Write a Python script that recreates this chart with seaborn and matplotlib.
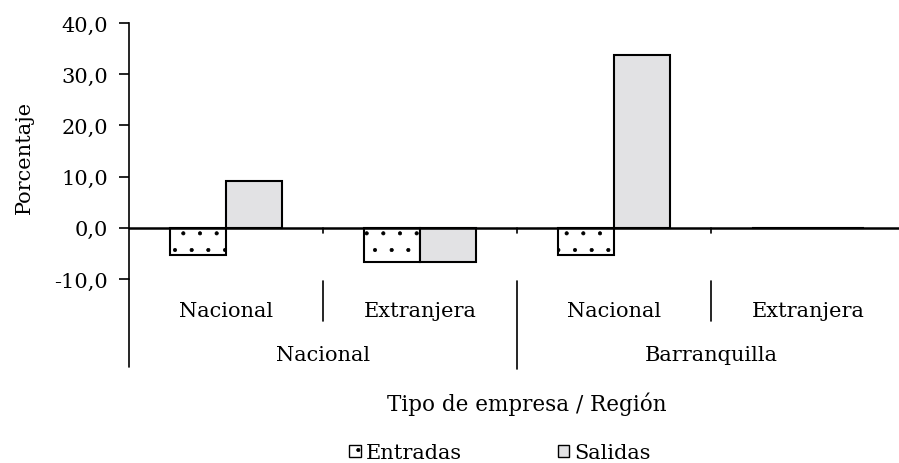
import pandas as pd
import numpy as np
import seaborn as sns
import matplotlib.pyplot as plt
from matplotlib.patches import Patch
from matplotlib.transforms import blended_transform_factory

# data
grupos = ['Nacional', 'Extranjera', 'Nacional ', 'Extranjera ']
tipo_labels = ['Nacional', 'Extranjera', 'Nacional', 'Extranjera']
region_labels = ['Nacional', 'Barranquilla']
entradas = [-5.3, -6.6, -5.3, 0.0]
salidas = [9.2, -6.7, 33.8, 0.0]

df = pd.DataFrame({
    'grupo': grupos * 2,
    'serie': ['Entradas'] * 4 + ['Salidas'] * 4,
    'valor': entradas + salidas,
})

sns.set_style('white')
plt.rcParams['font.family'] = ['DejaVu Serif']
plt.rcParams['text.color'] = 'black'
plt.rcParams['axes.labelcolor'] = 'black'
plt.rcParams['ytick.color'] = 'black'
plt.rcParams['hatch.linewidth'] = 0.5

FS = 15
W, H = 899, 464
fig = plt.figure(figsize=(W / 100, H / 100), dpi=100)
# axes in pixels: left 129, right 905, top 24 (40), bottom 280 (-10)
ax = fig.add_axes([129 / W, 1 - 280 / H, (905 - 129) / W, (280 - 24) / H])

sns.barplot(data=df, x='grupo', y='valor', hue='serie', order=grupos,
            palette=['white', '#e2e2e4'], edgecolor='black', linewidth=1.5,
            width=0.58, gap=0, legend=False, ax=ax)

for p in ax.containers[0]:
    p.set_hatch('.')

ax.set_xlim(-0.5, 3.5)
ax.set_ylim(-10, 40)
ax.set_yticks(np.arange(-10, 41, 10))
ax.set_yticklabels([f'{v:.1f}'.replace('.', ',') for v in np.arange(-10, 41, 10)], fontsize=FS)
ax.tick_params(axis='y', left=True, length=7, width=1.2, pad=8)
ax.set_xticks([])
ax.set_xlabel('')
ax.set_ylabel('Porcentaje', fontsize=FS)
ax.yaxis.set_label_coords((34 - 129) / (905 - 129), (280 - 157) / 256)

for s in ['top', 'right', 'bottom']:
    ax.spines[s].set_visible(False)
ax.spines['left'].set_linewidth(1.2)
ax.spines['left'].set_color('black')
ax.axhline(0, color='black', lw=1.8, zorder=5)

# tick marks below the zero line at group boundaries
for xb in [0.5, 1.5, 2.5]:
    ax.plot([xb, xb], [0, -1.0], color='black', lw=1.2, clip_on=False)

# multi-level category labels under the plot
tr = blended_transform_factory(ax.transData, fig.transFigure)
fy = lambda py: 1 - py / H
ax.plot([-0.5, -0.5], [fy(280), fy(368)], color='black', lw=1.2, transform=tr, clip_on=False)
for i, lab in enumerate(tipo_labels):
    ax.text(i, fy(317), lab, ha='center', va='baseline', fontsize=FS, transform=tr)
for xb in [0.5, 2.5]:
    ax.plot([xb, xb], [fy(282), fy(322)], color='black', lw=1.2, transform=tr, clip_on=False)
ax.plot([1.5, 1.5], [fy(282), fy(370)], color='black', lw=1.2, transform=tr, clip_on=False)
for i, lab in enumerate(region_labels):
    ax.text(0.5 + 2 * i, fy(361), lab, ha='center', va='baseline', fontsize=FS, transform=tr)

fig.text(527 / W, fy(411), 'Tipo de empresa / Región', ha='center', va='baseline', fontsize=FS + 0.5)

handles = [Patch(facecolor='white', edgecolor='black', hatch='.', label='Entradas'),
           Patch(facecolor='#e2e2e4', edgecolor='black', label='Salidas')]
fig.legend(handles=handles, loc='center', bbox_to_anchor=(500 / W, fy(454)), ncol=2,
           frameon=False, fontsize=FS, handlelength=0.55, handleheight=0.55,
           handletextpad=0.25, columnspacing=4.6, borderaxespad=0, borderpad=0)

fig.savefig('out.png', dpi=100)
